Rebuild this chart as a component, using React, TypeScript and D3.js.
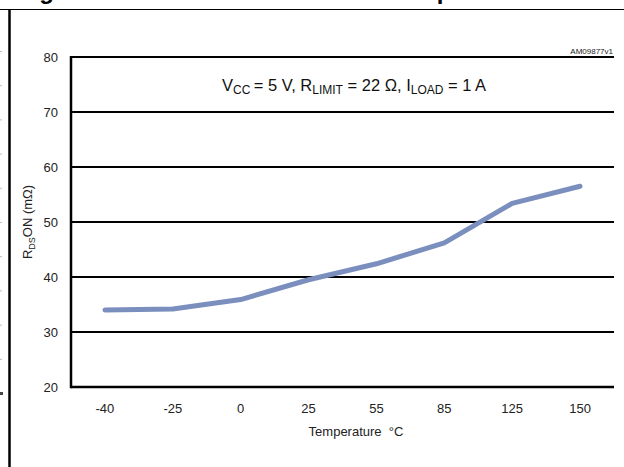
import React from "react";
import * as d3 from "d3";

const temperatures = ["-40", "-25", "0", "25", "55", "85", "125", "150"];
const rdsOn = [34.0, 34.2, 35.9, 39.5, 42.4, 46.2, 53.4, 56.5];
const yTicks = [20, 30, 40, 50, 60, 70, 80];

const W = 624;
const H = 467;
const FONT = "'Liberation Sans', Arial, Helvetica, sans-serif";

export default function App() {
  const margin = { left: 71, right: 10, top: 57, bottom: 80 };
  const x = d3
    .scalePoint<string>()
    .domain(temperatures)
    .range([margin.left, W - margin.right])
    .padding(0.5);
  const y = d3.scaleLinear().domain([20, 80]).range([H - margin.bottom, margin.top]);

  const line = d3
    .line<number>()
    .x((_, i) => x(temperatures[i]) as number)
    .y((d) => y(d));

  const dots = d3.range(10).map((i) => 51 + i * 34.2);

  return (
    <svg
      width={W}
      height={H}
      style={{ position: "absolute", left: 0, top: 0, background: "#fff" }}
      fontFamily={FONT}
    >
      <rect x={0} y={0} width={W} height={H} fill="#fff" />
      {/* cropped figure title (only descenders visible, as in the reference) */}
      <text x={18} y={-1.5} fontSize={24} fontWeight="bold" fill="#000">
        Figure 7. On-state resistance vs. temperature
      </text>
      {/* frame */}
      <line x1={0} x2={W} y1={9.5} y2={9.5} stroke="#000" strokeWidth={1.2} />
      <line x1={9.5} x2={9.5} y1={9} y2={H} stroke="#000" strokeWidth={2.5} />
      {dots.map((d, i) => (
        <rect key={i} x={0} y={d} width={2} height={1} fill="#bbb" />
      ))}
      <rect x={0} y={392} width={3} height={3} fill="#444" />

      {/* gridlines */}
      {yTicks.map((t) => (
        <g key={t}>
          <line
            x1={margin.left}
            x2={W - margin.right}
            y1={y(t)}
            y2={y(t)}
            stroke="#000"
            strokeWidth={t === 20 ? 2.5 : 2}
          />
          <text
            x={58}
            y={y(t)}
            dy="0.35em"
            textAnchor="end"
            fontSize={13}
            fill="#222"
          >
            {t}
          </text>
        </g>
      ))}
      <line
        x1={margin.left}
        x2={margin.left}
        y1={y(80) - 1}
        y2={y(20) + 1.25}
        stroke="#000"
        strokeWidth={2.5}
      />

      {/* x tick labels */}
      {temperatures.map((t) => (
        <text
          key={t}
          x={x(t) as number}
          y={413}
          textAnchor="middle"
          fontSize={13}
          fill="#222"
        >
          {t}
        </text>
      ))}
      <text x={356} y={436} textAnchor="middle" fontSize={13} fill="#222">
        Temperature {"\u00a0"}°C
      </text>

      {/* y axis title */}
      <text
        transform={`translate(32,${y(50)}) rotate(-90)`}
        textAnchor="middle"
        fontSize={13}
        fill="#222"
      >
        R<tspan fontSize={9} dy={3}>DS</tspan>
        <tspan dy={-3}>ON (mΩ)</tspan>
      </text>

      {/* data line */}
      <path
        d={line(rdsOn) || ""}
        fill="none"
        stroke="#7b8fbf"
        strokeWidth={5}
        strokeLinecap="round"
        strokeLinejoin="round"
      />

      {/* annotation */}
      <text x={222} y={91} fontSize={16.5} fill="#111">
        V<tspan fontSize={12} dy={3}>CC</tspan>
        <tspan dy={-3}>{"\u2009"}= 5 V, R</tspan>
        <tspan fontSize={12} dy={3}>LIMIT</tspan>
        <tspan dy={-3}> = 22 Ω, I</tspan>
        <tspan fontSize={12} dy={3}>LOAD</tspan>
        <tspan dy={-3}> = 1 A</tspan>
      </text>
      <text x={613} y={54} textAnchor="end" fontSize={8} fill="#222">
        AM09877v1
      </text>
    </svg>
  );
}
